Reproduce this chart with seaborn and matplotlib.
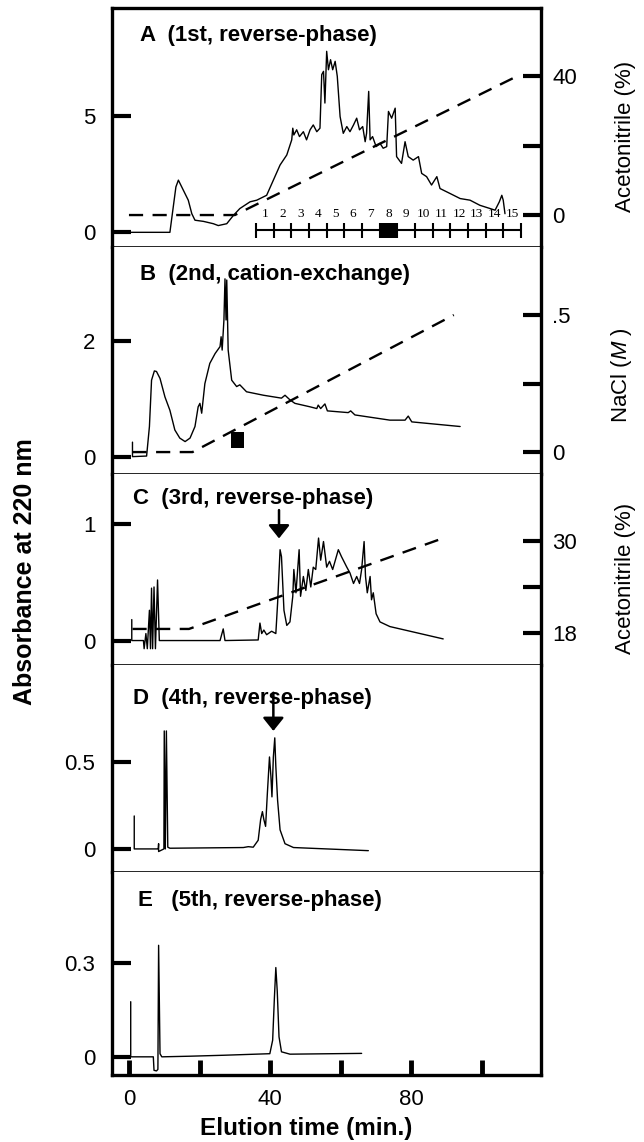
import matplotlib
matplotlib.use("Agg")
import matplotlib.pyplot as plt
import pandas as pd
import seaborn as sns

# --- chromatogram traces (time in min, absorbance at 220 nm) ---
time_a = [-4.8, 11.6, 13.3, 14.0, 15.4, 16.8, 17.8, 18.7, 21.1, 23.9, 25.3, 27.7, 29.6, 31.4,
          34.3, 36.2, 39.0, 40.9, 42.8, 44.7, 46.1, 46.4, 46.7, 47.5, 48.3, 49.4, 50.3, 51.3,
          52.2, 53.2, 54.1, 54.6, 55.1, 55.5, 56.0, 56.5, 57.1, 57.7, 58.4, 59.0, 59.8, 60.7,
          61.7, 62.6, 63.6, 64.5, 65.3, 66.2, 66.9, 67.3, 67.9, 68.3, 69.0, 70.0, 71.1, 72.0,
          73.0, 73.5, 74.4, 75.4, 75.8, 77.2, 78.2, 79.1, 80.5, 82.0, 82.9, 84.3, 85.7, 87.2,
          88.1, 90.9, 93.8, 96.6, 99.4, 102.3, 103.7, 104.9, 105.6, 106.0, 106.5]
abs_a = [0.0, 0.0, 1.95, 2.24, 1.81, 1.38, 0.80, 0.52, 0.47, 0.37, 0.29, 0.37, 0.73, 1.02,
         1.31, 1.38, 1.59, 2.24, 2.89, 3.32, 3.97, 4.47, 4.18, 4.40, 4.11, 4.32, 3.97, 4.40,
         4.61, 4.32, 4.47, 6.77, 6.91, 5.55, 7.77, 6.98, 7.41, 6.98, 7.34, 6.70, 4.97, 4.25,
         4.54, 4.32, 4.61, 4.90, 4.40, 4.54, 3.89, 4.25, 6.05, 3.97, 4.11, 3.68, 3.82, 3.61,
         3.68, 5.19, 4.90, 5.33, 3.25, 2.96, 3.89, 3.25, 3.10, 3.25, 2.53, 2.39, 2.03, 2.39,
         1.88, 1.67, 1.45, 1.38, 1.16, 1.02, 0.95, 1.31, 1.59, 1.38, 0.80]

time_b = [1.0, 1.0, 5.0, 5.8, 6.4, 7.2, 7.8, 8.8, 10.2, 11.6, 13.0, 14.4, 15.9, 17.3, 18.7,
          19.6, 20.1, 20.6, 21.5, 22.9, 24.4, 25.8, 26.1, 26.4, 26.9, 27.2, 27.5, 27.7, 28.1,
          29.1, 30.5, 31.4, 33.3, 38.1, 43.2, 44.2, 45.6, 47.0, 51.3, 53.2, 53.6, 54.3, 55.5,
          56.2, 62.1, 62.8, 64.0, 73.9, 78.2, 79.1, 80.1, 93.8]
abs_b = [0.25, 0.0, 0.01, 0.52, 1.32, 1.48, 1.47, 1.35, 1.03, 0.80, 0.46, 0.32, 0.26, 0.32,
         0.52, 0.86, 0.92, 0.75, 1.26, 1.61, 1.78, 1.90, 2.07, 1.84, 2.36, 3.07, 2.36, 3.05,
         1.84, 1.32, 1.21, 1.24, 1.12, 1.06, 1.01, 1.06, 0.98, 0.92, 0.86, 0.83, 0.89, 0.83,
         0.91, 0.79, 0.76, 0.79, 0.72, 0.63, 0.63, 0.70, 0.60, 0.52]

time_c = [0.8, 0.8, 4.1, 4.3, 4.8, 5.2, 5.8, 6.1, 6.4, 6.7, 7.1, 7.5, 8.1, 8.6, 25.8, 26.7,
          27.2, 36.6, 37.1, 37.6, 38.2, 39.0, 40.4, 41.6, 42.1, 42.8, 43.2, 43.9, 44.7, 45.6,
          46.4, 46.7, 47.3, 48.2, 48.6, 49.4, 50.1, 50.8, 51.5, 52.2, 52.9, 53.7, 54.3, 55.1,
          56.0, 56.8, 57.7, 59.3, 60.2, 61.7, 62.6, 63.6, 64.5, 65.3, 65.9, 66.6, 67.0, 67.5,
          68.3, 68.7, 69.2, 70.0, 71.1, 73.9, 79.6, 89.0]
abs_c = [0.18, 0.0, 0.0, -0.07, 0.06, -0.07, 0.26, -0.07, 0.45, -0.07, 0.46, -0.07, 0.52,
         0.0, 0.0, 0.10, 0.0, 0.005, 0.15, 0.06, 0.09, 0.05, 0.08, 0.06, 0.32, 0.78, 0.72,
         0.26, 0.13, 0.16, 0.38, 0.61, 0.41, 0.78, 0.38, 0.55, 0.43, 0.61, 0.46, 0.63, 0.61,
         0.88, 0.69, 0.85, 0.63, 0.68, 0.61, 0.78, 0.72, 0.63, 0.58, 0.49, 0.55, 0.49, 0.61,
         0.85, 0.55, 0.41, 0.55, 0.35, 0.41, 0.23, 0.16, 0.12, 0.08, 0.014]

time_d = [1.5, 1.5, 8.3, 8.4, 8.4, 9.9, 10.0, 10.3, 10.6, 11.0, 11.6, 32.4, 33.8, 35.2, 36.6,
          37.3, 37.8, 38.2, 38.7, 39.2, 39.8, 40.2, 40.5, 40.9, 41.3, 41.6, 42.1, 42.8, 44.2,
          46.6, 67.8]
abs_d = [0.19, 0.0, 0.0, 0.03, -0.015, 0.0, 0.68, 0.0, 0.68, 0.01, 0.004, 0.008, 0.013, 0.01,
         0.05, 0.17, 0.215, 0.17, 0.13, 0.32, 0.53, 0.42, 0.30, 0.53, 0.64, 0.475, 0.28, 0.11,
         0.03, 0.008, -0.01]

time_e = [0.5, 0.5, 6.9, 7.1, 7.8, 8.2, 8.4, 8.8, 9.3, 17.3, 26.7, 39.9, 40.7, 41.2, 41.6,
          42.0, 42.5, 43.2, 45.6, 65.9]
abs_e = [0.176, 0.0, 0.0, -0.043, -0.045, -0.04, 0.356, 0.01, 0.0, 0.002, 0.005, 0.01, 0.053,
         0.19, 0.285, 0.21, 0.064, 0.016, 0.0085, 0.011]

# --- gradients (dashed lines, right axes) ---
grad_a_time = [0, 30, 110]
grad_a_acn = [0, 0, 40]
grad_b_time = [1, 18, 92]
grad_b_nacl = [0, 0, 0.5]
grad_c_time = [1, 17, 90]
grad_c_acn = [18.5, 18.5, 30.5]

# --- fraction collector bar in panel A ---
frac_edges = [36, 41, 46, 51, 56, 61, 66, 71, 76, 81, 86, 91, 96, 101, 106, 111]
frac_labels = ["1", "2", "3", "4", "5", "6", "7", "8", "9", "10", "11", "12", "13", "14", "15"]
active_frac = 8

# active fraction marker in panel B (time range, absorbance range)
mark_b_time = [28.8, 32.6]
mark_b_abs = [0.15, 0.43]

# arrows marking the active peak (time, tail, tip)
arrow_c = (42.5, 1.12, 0.877)
arrow_d = (40.9, 0.90, 0.68)

titles = ["A  (1st, reverse-phase)", "B  (2nd, cation-exchange)", "C  (3rd, reverse-phase)",
          "D  (4th, reverse-phase)", "E   (5th, reverse-phase)"]
left_ticks = [[0, 5], [0, 2], [0, 1], [0, 0.5], [0, 0.3]]
left_ticklabels = [["0", "5"], ["0", "2"], ["0", "1"], ["0", "0.5"], ["0", "0.3"]]
x_ticks = [0, 20, 40, 60, 80, 100]
x_ticklabels = ["0", "", "40", "", "80", ""]

sns.set_style("ticks")
plt.rcParams["font.family"] = ["Liberation Sans", "DejaVu Sans"]
plt.rcParams["mathtext.fontset"] = "custom"
plt.rcParams["mathtext.it"] = "Liberation Sans:italic"
plt.rcParams["mathtext.rm"] = "Liberation Sans"
for key in ["text.color", "axes.labelcolor", "xtick.color", "ytick.color", "axes.edgecolor"]:
    plt.rcParams[key] = "black"

W, H = 644, 1142
fig = plt.figure(figsize=(W / 100, H / 100), dpi=100)

# panel pixel extents (top, bottom)
panel_px = [(8, 247), (247, 474), (474, 665), (665, 872), (872, 1075)]
ylims = [(-0.63, 9.63), (-0.3, 3.62), (-0.21, 1.43), (-0.133, 1.06), (-0.058, 0.59)]
x_left, x_right = 112, 541
xlim = (-4.8, 116.7)

traces = [(time_a, abs_a), (time_b, abs_b), (time_c, abs_c), (time_d, abs_d), (time_e, abs_e)]
title_pos = [(0.065, 0.887), (0.065, 0.877), (0.05, 0.873), (0.05, 0.839), (0.061, 0.862)]

axes = []
for i, (top, bot) in enumerate(panel_px):
    ax = fig.add_axes([x_left / W, 1 - bot / H, (x_right - x_left) / W, (bot - top) / H])
    df = pd.DataFrame({"t": traces[i][0], "a": traces[i][1]})
    sns.lineplot(data=df, x="t", y="a", ax=ax, color="black", lw=1.0,
                 estimator=None, sort=False)
    ax.set_xlim(xlim)
    ax.set_ylim(ylims[i])
    ax.set_xlabel("")
    ax.set_ylabel("")
    ax.set_yticks(left_ticks[i])
    ax.set_yticklabels(left_ticklabels[i], fontsize=16)
    ax.tick_params(axis="y", direction="in", length=14, width=3, pad=12, right=False)
    for s in ["left", "right"]:
        ax.spines[s].set_linewidth(2.4)
    ax.spines["top"].set_linewidth(2.4 if i == 0 else 1.2)
    ax.spines["top"].set_visible(i == 0)
    ax.spines["bottom"].set_linewidth(2.4 if i == 4 else 1.2)
    if i == 4:
        ax.set_xticks(x_ticks)
        ax.set_xticklabels(x_ticklabels, fontsize=16)
        ax.tick_params(axis="x", direction="in", length=11, width=3.5, pad=10)
    else:
        ax.set_xticks([])
    ax.text(title_pos[i][0], title_pos[i][1], titles[i], transform=ax.transAxes,
            fontsize=16, fontweight="bold", va="center", ha="left")
    axes.append(ax)


def right_axis(ax, t, g, lim, ticks, labels):
    ax2 = ax.twinx()
    ax2.plot(t, g, color="black", lw=1.7, dashes=(6, 4))
    ax2.set_ylim(lim)
    ax2.set_yticks(ticks)
    ax2.set_yticklabels(labels, fontsize=16)
    ax2.tick_params(axis="y", direction="in", length=13, width=3, pad=8)
    for s in ax2.spines.values():
        s.set_visible(False)
    ax2.set_xlim(xlim)
    return ax2


right_axis(axes[0], grad_a_time, grad_a_acn, (-9.2, 59.6), [0, 20, 40], ["0", "", "40"])
right_axis(axes[1], grad_b_time, grad_b_nacl, (-0.08, 0.748), [0, 0.25, 0.5], ["0", "", ".5"])
right_axis(axes[2], grad_c_time, grad_c_acn, (13.8, 38.7), [18, 24, 30], ["18", "", "30"])

# fraction bar
axA = axes[0]
axA.hlines(0.08, frac_edges[0], frac_edges[-1], color="black", lw=1.5)
axA.vlines(frac_edges, -0.25, 0.38, color="black", lw=1.5)
axA.fill_between([frac_edges[active_frac - 1], frac_edges[active_frac]], -0.25, 0.38,
                 color="black", lw=0)
for k, lab in enumerate(frac_labels):
    axA.text((frac_edges[k] + frac_edges[k + 1]) / 2, 0.55, lab, ha="center", va="bottom",
             fontsize=9.5, family="Liberation Serif")

# marker in B
axes[1].fill_between(mark_b_time, mark_b_abs[0], mark_b_abs[1], color="black", lw=0)

# arrows
for ax, (t, tail, tip) in [(axes[2], arrow_c), (axes[3], arrow_d)]:
    ax.annotate("", xy=(t, tip), xytext=(t, tail),
                arrowprops=dict(arrowstyle="-|>,head_width=0.32,head_length=0.4",
                                color="black", lw=1.8, mutation_scale=20, shrinkA=0, shrinkB=0))

fig.text(25 / W, 1 - 572 / H, "Absorbance at 220 nm", rotation=90, fontsize=18,
         fontweight="bold", ha="center", va="center")
fig.text(306 / W, 1 - 1129 / H, "Elution time (min.)", fontsize=17.5, fontweight="bold",
         ha="center", va="center")
fig.text(625 / W, 1 - 136 / H, "Acetonitrile (%)", rotation=90, fontsize=16,
         ha="center", va="center")
fig.text(622 / W, 1 - 375 / H, "NaCl ($M$ )", rotation=90, fontsize=16,
         ha="center", va="center")
fig.text(625 / W, 1 - 578 / H, "Acetonitrile (%)", rotation=90, fontsize=16,
         ha="center", va="center")

fig.savefig("out.png", dpi=100)
plt.close(fig)
